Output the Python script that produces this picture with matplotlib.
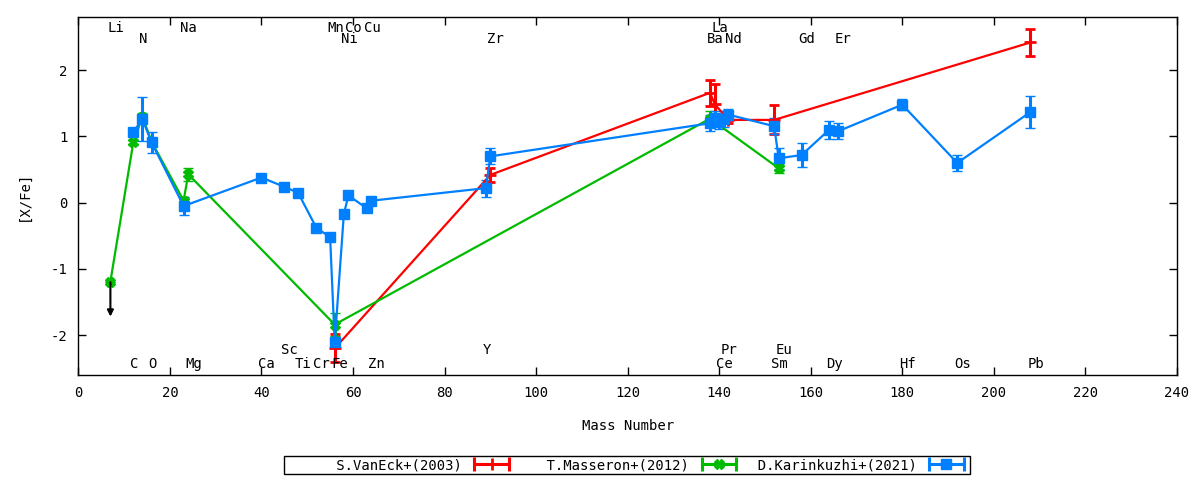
import matplotlib
matplotlib.use("Agg")
import matplotlib.pyplot as plt
from matplotlib.lines import Line2D
from matplotlib.legend_handler import HandlerLine2D, HandlerTuple

plt.rcParams['font.family'] = ['DejaVu Sans Mono', 'DejaVu Sans']
plt.rcParams['axes.unicode_minus'] = False
plt.rcParams['font.size'] = 9.5

# S.VanEck+(2003)
vaneck_mass = [56, 90, 138, 139, 142, 152, 208]
vaneck_val = [-2.20, 0.42, 1.66, 1.49, 1.25, 1.25, 2.42]
vaneck_err = [0.21, 0.10, 0.20, 0.31, 0.05, 0.22, 0.21]

# T.Masseron+(2012)
masseron_mass = [7, 12, 14, 16, 23, 24, 56, 138, 153]
masseron_val = [-1.19, 0.91, 1.30, 0.92, 0.03, 0.43, -1.84, 1.27, 0.52]
masseron_err = [0.0, 0.04, 0.05, 0.05, 0.05, 0.10, 0.18, 0.12, 0.07]

# D.Karinkuzhi+(2021)
karin_mass = [12, 14, 16, 23, 40, 45, 48, 52, 55, 56, 58, 59, 63, 64, 89, 90,
              138, 139, 140, 141, 142, 152, 153, 158, 164, 166, 180, 192, 208]
karin_val = [1.07, 1.26, 0.91, -0.05, 0.38, 0.24, 0.15, -0.38, -0.52, -2.11,
             -0.17, 0.11, -0.085, 0.03, 0.22, 0.70,
             1.20, 1.28, 1.22, 1.27, 1.33, 1.155, 0.67, 0.72, 1.10, 1.08,
             1.48, 0.60, 1.37]
karin_err = [0.05, 0.33, 0.16, 0.13, 0.03, 0.03, 0.03, 0.03, 0.03, 0.08,
             0.05, 0.04, 0.05, 0.04, 0.13, 0.12,
             0.12, 0.10, 0.10, 0.12, 0.08, 0.12, 0.16, 0.18, 0.14, 0.12,
             0.08, 0.12, 0.245]

# element labels
elem_names = ['Li', 'C', 'N', 'O', 'Na', 'Mg', 'Ca', 'Sc', 'Ti', 'Cr', 'Mn',
              'Fe', 'Ni', 'Co', 'Cu', 'Zn', 'Y', 'Zr', 'Ba', 'La', 'Ce', 'Pr',
              'Nd', 'Sm', 'Eu', 'Gd', 'Dy', 'Er', 'Hf', 'Os', 'Pb']
elem_mass = [7, 12, 14, 16, 23, 24, 40, 45, 48, 52, 55, 56, 58, 59, 63, 64,
             89, 90, 138, 139, 140, 141, 142, 152, 153, 158, 164, 166, 180,
             192, 208]
top1 = ['Li', 'Na', 'Mn', 'Co', 'Cu', 'La']
top2 = ['N', 'Ni', 'Zr', 'Ba', 'Nd', 'Gd', 'Er']
bot1 = ['Sc', 'Y', 'Pr', 'Eu']

fig = plt.figure(figsize=(12, 4.8), dpi=100)
ax = fig.add_axes([0.0653, 0.219, 0.9155, 0.745])

series = [
    (vaneck_mass, vaneck_val, vaneck_err, 'red', '+', 9, 'S.VanEck+(2003)'),
    (masseron_mass, masseron_val, masseron_err, '#00bb00', 'X', 6.5, 'T.Masseron+(2012)'),
    (karin_mass, karin_val, karin_err, '#0080ff', 's', 7.5, 'D.Karinkuzhi+(2021)'),
]

handles = []
hmap = {}
for mass, val, err, col, mk, ms, lab in series:
    ax.errorbar(mass, val, yerr=err, color=col, lw=1.6, marker=mk, ms=ms,
                mew=2 if mk == '+' else 1, elinewidth=2.2, capsize=3.5,
                capthick=2.2)
    cap = Line2D([], [], color=col, lw=2.2, marker='|', ms=10, mew=2.2)
    pt = Line2D([], [], color=col, lw=0, marker=mk, ms=ms,
                mew=2 if mk == '+' else 1)
    hmap[cap] = HandlerLine2D(numpoints=2)
    hmap[pt] = HandlerLine2D(numpoints=1)
    handles.append(((cap, pt), lab.rjust(21)))

# Li upper limit
ax.annotate('', xy=(7, -1.72), xytext=(7, -1.2),
            arrowprops=dict(arrowstyle='-|>', color='black', lw=1.5,
                            mutation_scale=9, shrinkA=0, shrinkB=0))

for name, m in zip(elem_names, elem_mass):
    if name in top1:
        y = 2.64
    elif name in top2:
        y = 2.47
    elif name in bot1:
        y = -2.22
    else:
        y = -2.44
    ax.text(m - 0.7, y, name, ha='left', va='center', fontsize=10)

ax.set_xlim(0, 240)
ax.set_ylim(-2.6, 2.8)
ax.set_xticks(range(0, 241, 20))
ax.set_yticks([-2, -1, 0, 1, 2])
ax.tick_params(direction='in', length=6, width=1, top=True, right=True,
               labelsize=10, pad=8)
for s in ax.spines.values():
    s.set_linewidth(1)
ax.set_xlabel('Mass Number', fontsize=10, labelpad=14)
ax.set_ylabel('[X/Fe]', fontsize=10, labelpad=14)

hmap[tuple] = HandlerTuple(ndivide=1)
leg = fig.legend([h for h, _ in handles], [l for _, l in handles],
                 handler_map=hmap, loc='center', bbox_to_anchor=(0.5225, 0.031),
                 ncol=3, markerfirst=False, fancybox=False, framealpha=1,
                 edgecolor='black', handlelength=3.1, columnspacing=0.0,
                 borderpad=0.15, fontsize=10, handletextpad=0.6,
                 borderaxespad=0)
leg.get_frame().set_linewidth(1)

fig.savefig('out.png', dpi=100)
